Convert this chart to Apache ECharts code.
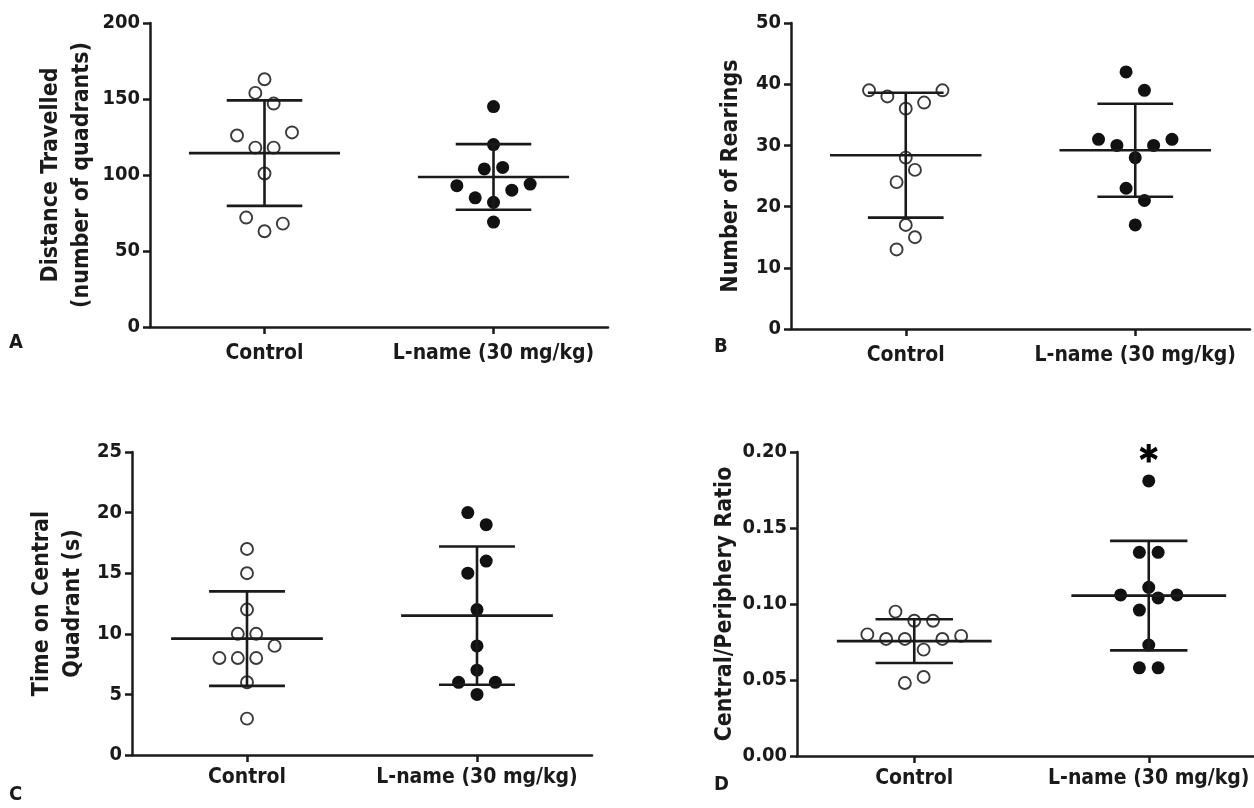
<!DOCTYPE html>
<html><head><meta charset="utf-8">
<script src="https://cdn.jsdelivr.net/npm/echarts@6/dist/echarts.min.js"></script>
<style>html,body{margin:0;padding:0;background:#fff}#c{width:1254px;height:808px}</style>
</head><body><div id="c"></div>
<script>
// ---------- DATA ----------
const categories = ['Control', 'L-name (30 mg/kg)'];

// Panel A: Distance travelled (number of quadrants)
const distTicks = ['0', '50', '100', '150', '200'];
const distControl = [163, 154, 147, 126, 128, 118, 118, 101, 72, 63, 68];
const distControlX = [0, -0.04, 0.04, -0.12, 0.12, -0.04, 0.04, 0, -0.08, 0, 0.08];
const distLname = [145, 120, 104, 105, 93, 94, 85, 90, 82, 69];
const distLnameX = [0, 0, -0.04, 0.04, -0.16, 0.16, -0.08, 0.08, 0, 0];
const distMean = [114.4, 98.7];
const distSD = [34.7, 21.6];

// Panel B: Number of rearings
const rearTicks = ['0', '10', '20', '30', '40', '50'];
const rearControl = [39, 38, 39, 37, 36, 28, 26, 24, 17, 15, 13];
const rearControlX = [-0.16, -0.08, 0.16, 0.08, 0, 0, 0.04, -0.04, 0, 0.04, -0.04];
const rearLname = [42, 39, 31, 30, 30, 31, 28, 23, 21, 17];
const rearLnameX = [-0.04, 0.04, -0.16, -0.08, 0.08, 0.16, 0, -0.04, 0.04, 0];
const rearMean = [28.4, 29.2];
const rearSD = [10.2, 7.6];

// Panel C: Time on central quadrant (s)
const timeTicks = ['0', '5', '10', '15', '20', '25'];
const timeControl = [17, 15, 12, 10, 10, 9, 8, 8, 8, 6, 3];
const timeControlX = [0, 0, 0, -0.04, 0.04, 0.12, -0.12, -0.04, 0.04, 0, 0];
const timeLname = [20, 19, 16, 15, 12, 9, 7, 6, 6, 5];
const timeLnameX = [-0.04, 0.04, 0.04, -0.04, 0, 0, 0, -0.08, 0.08, 0];
const timeMean = [9.6, 11.5];
const timeSD = [3.9, 5.7];

// Panel D: Central/periphery ratio
const ratioTicks = ['0.00', '0.05', '0.10', '0.15', '0.20'];
const ratioControl = [0.095, 0.089, 0.089, 0.080, 0.077, 0.077, 0.077, 0.079, 0.070, 0.052, 0.048];
const ratioControlX = [-0.08, 0, 0.08, -0.2, -0.12, -0.04, 0.12, 0.2, 0.04, 0.04, -0.04];
const ratioLname = [0.181, 0.134, 0.134, 0.111, 0.106, 0.104, 0.106, 0.096, 0.073, 0.058, 0.058];
const ratioLnameX = [0, -0.04, 0.04, 0, -0.12, 0.04, 0.12, -0.04, 0, -0.04, 0.04];
const ratioMean = [0.0756, 0.1055];
const ratioSD = [0.0144, 0.036];
const ratioSig = ['', '*'];

// ---------- LAYOUT / STYLE ----------
const FONT = "'DejaVu Sans Condensed', 'Liberation Sans', Arial, sans-serif";
const INK = '#1a1a1a';

const panels = [
  { letter: 'A', letterPos: [9, 333], labelMargin: 16, grid: { left: 150, top: 23, width: 458, height: 304 },
    name: 'Distance Travelled\n(number of quadrants)', nameGap: 52, ticks: distTicks, dec: 0,
    ctrl: distControl, ctrlX: distControlX, ln: distLname, lnX: distLnameX, mean: distMean, sd: distSD },
  { letter: 'B', letterPos: [714, 337], labelMargin: 16, grid: { left: 791, top: 23, width: 459, height: 306 },
    name: 'Number of Rearings', nameGap: 44, ticks: rearTicks, dec: 0,
    ctrl: rearControl, ctrlX: rearControlX, ln: rearLname, lnX: rearLnameX, mean: rearMean, sd: rearSD },
  { letter: 'C', letterPos: [9, 785], labelMargin: 12, grid: { left: 132, top: 452, width: 460, height: 303 },
    name: 'Time on Central\nQuadrant (s)', nameGap: 43, ticks: timeTicks, dec: 0,
    ctrl: timeControl, ctrlX: timeControlX, ln: timeLname, lnX: timeLnameX, mean: timeMean, sd: timeSD },
  { letter: 'D', letterPos: [714, 775], labelMargin: 12, grid: { left: 797, top: 452, width: 469, height: 304 },
    name: 'Central/Periphery Ratio', nameGap: 56, ticks: ratioTicks, dec: 2,
    ctrl: ratioControl, ctrlX: ratioControlX, ln: ratioLname, lnX: ratioLnameX, mean: ratioMean, sd: ratioSD, sig: ratioSig }
];

const grids = [], xAxes = [], yAxes = [], series = [], graphics = [];

panels.forEach((p, i) => {
  grids.push(Object.assign({ containLabel: false, outerBoundsMode: 'none' }, p.grid));
  const tickVals = p.ticks.map(Number);
  xAxes.push({
    type: 'category', gridIndex: i, data: categories, boundaryGap: true,
    axisLine: { show: true, lineStyle: { color: INK, width: 2.5 } },
    axisTick: { show: true, alignWithLabel: true, length: 7, lineStyle: { color: INK, width: 2.5 } },
    axisLabel: { show: true, color: INK, fontFamily: FONT, fontWeight: 'bold', fontSize: 21, margin: p.labelMargin, interval: 0 },
    splitLine: { show: false }
  });
  xAxes.push({ type: 'value', gridIndex: i, min: 0.5, max: 2.5, show: false });
  yAxes.push({
    type: 'value', gridIndex: i,
    min: tickVals[0], max: tickVals[tickVals.length - 1], interval: tickVals[1] - tickVals[0],
    name: p.name, nameLocation: 'middle', nameGap: p.nameGap, nameMoveOverlap: false,
    nameTextStyle: { color: INK, fontFamily: FONT, fontWeight: 'bold', fontSize: 23, lineHeight: 31, align: 'center' },
    axisLine: { show: true, lineStyle: { color: INK, width: 2.5 } },
    axisTick: { show: true, length: 7, lineStyle: { color: INK, width: 2.5 } },
    axisLabel: { show: true, color: INK, fontFamily: FONT, fontWeight: 'bold', fontSize: 20, margin: 10,
      formatter: v => Number(v).toFixed(p.dec) },
    splitLine: { show: false }
  });
  const xi = 2 * i + 1;
  series.push({
    type: 'scatter', xAxisIndex: xi, yAxisIndex: i, z: 2, symbol: 'circle', symbolSize: 12,
    itemStyle: { color: 'rgba(255,255,255,0)', borderColor: '#3a3a3a', borderWidth: 1.9, opacity: 1 },
    data: p.ctrl.map((v, k) => [1 + p.ctrlX[k], v]), silent: true
  });
  series.push({
    type: 'scatter', xAxisIndex: xi, yAxisIndex: i, z: 2, symbol: 'circle', symbolSize: 13,
    itemStyle: { color: '#111', opacity: 1 },
    data: p.ln.map((v, k) => [2 + p.lnX[k], v]), silent: true
  });
  series.push({
    type: 'custom', xAxisIndex: xi, yAxisIndex: i, z: 3, silent: true,
    data: p.mean.map((m, k) => [k + 1, m, p.sd[k]]),
    encode: { x: 0, y: 1 },
    renderItem: (params, api) => {
      const x = api.value(0), m = api.value(1), s = api.value(2);
      const pm = api.coord([x, m]), pt = api.coord([x, m + s]), pb = api.coord([x, m - s]);
      const hw = api.size([0.33, 0])[0], cw = api.size([0.165, 0])[0];
      const st = { stroke: INK, lineWidth: 2.6 };
      return { type: 'group', children: [
        { type: 'line', shape: { x1: pm[0] - hw, y1: pm[1], x2: pm[0] + hw, y2: pm[1] }, style: st },
        { type: 'line', shape: { x1: pt[0], y1: pt[1], x2: pb[0], y2: pb[1] }, style: st },
        { type: 'line', shape: { x1: pt[0] - cw, y1: pt[1], x2: pt[0] + cw, y2: pt[1] }, style: st },
        { type: 'line', shape: { x1: pb[0] - cw, y1: pb[1], x2: pb[0] + cw, y2: pb[1] }, style: st }
      ] };
    }
  });
  if (p.sig) {
    const groups = [p.ctrl, p.ln];
    series.push({
      type: 'scatter', xAxisIndex: xi, yAxisIndex: i, z: 4, symbolSize: 0, silent: true,
      data: p.sig.map((s, k) => ({ value: [k + 1, Math.max(...groups[k])],
        label: { show: s !== '', formatter: s } })),
      label: { position: 'top', distance: 0, color: '#000', fontFamily: FONT, fontWeight: 'bold', fontSize: 38,
        textBorderColor: '#000', textBorderWidth: 1.2, opacity: 1 }
    });
  }
  graphics.push({
    type: 'text', left: p.letterPos[0], top: p.letterPos[1],
    style: { text: p.letter, fill: INK, font: 'bold 20px ' + FONT }
  });
});

const chart = echarts.init(document.getElementById('c'), null, { renderer: 'canvas' });
chart.setOption({
  animation: false,
  backgroundColor: '#fff',
  grid: grids, xAxis: xAxes, yAxis: yAxes, series: series, graphic: graphics
});
</script>
</body></html>
